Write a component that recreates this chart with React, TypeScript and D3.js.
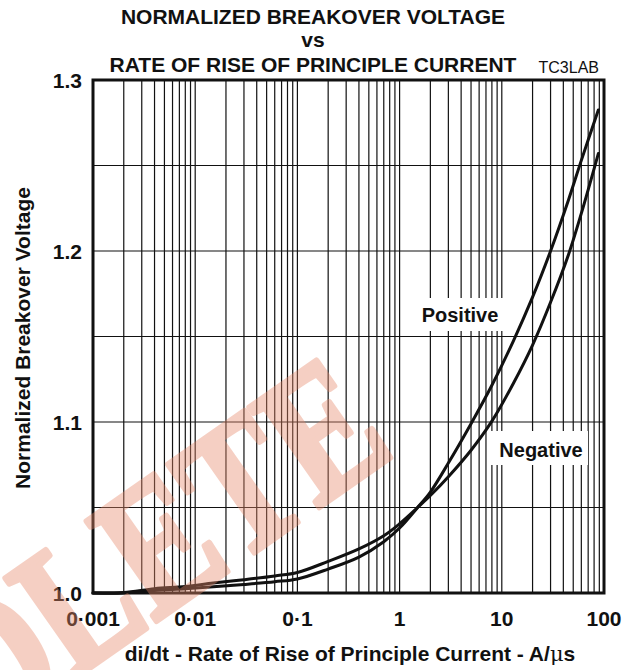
import React from 'react';
import * as d3 from 'd3';

const W = 632;
const H = 670;

const xTickValues = [0.001, 0.01, 0.1, 1, 10, 100];
const xTickLabels = ['0·001', '0·01', '0·1', '1', '10', '100'];
const yTickValues = [1.0, 1.1, 1.2, 1.3];
const yTickLabels = ['1.0', '1.1', '1.2', '1.3'];
const yGridValues = [1.05, 1.1, 1.15, 1.2, 1.25];

const current = [0.001, 0.002, 0.004, 0.008, 0.015, 0.03, 0.06, 0.1, 0.2, 0.4, 0.7, 1, 1.5, 2, 3, 5, 8, 13, 20, 30, 45, 60, 88];
const positive = [1.0, 1.0, 1.0015, 1.0025, 1.0036, 1.005, 1.0066, 1.0082, 1.014, 1.021, 1.03, 1.038, 1.05, 1.059, 1.076, 1.099, 1.1215, 1.1475, 1.173, 1.2, 1.23, 1.253, 1.2825];
const negative = [1.0, 1.0003, 1.0025, 1.0038, 1.0058, 1.0078, 1.01, 1.012, 1.0185, 1.0258, 1.0335, 1.0405, 1.05, 1.057, 1.068, 1.0835, 1.1005, 1.1227, 1.145, 1.17, 1.198, 1.222, 1.257];

const L = 93, R = 604, T = 80, B = 593;

export default function App() {
  const x = d3.scaleLog().domain([0.001, 100]).range([L, R]);
  const y = d3.scaleLinear().domain([1.0, 1.3]).range([B, T]);

  const vGrid: number[] = [];
  for (let e = -3; e < 2; e++) {
    for (let m = 1; m <= 9; m++) {
      const v = m * Math.pow(10, e);
      if (v > 0.001) vGrid.push(v);
    }
  }

  const line = d3
    .line<number>()
    .x((_, i) => x(current[i]))
    .y((d) => y(d))
    .curve(d3.curveCatmullRom.alpha(0.5));

  const bold = { fontFamily: 'Liberation Sans, Arial, sans-serif', fontWeight: 'bold' as const };

  return (
    <svg width={W} height={H} style={{ position: 'absolute', left: 0, top: 0, background: '#fff' }}>
      <rect x={0} y={0} width={W} height={H} fill="#fff" />
      {/* title */}
      <g {...bold} fontSize={21} textAnchor="middle" fill="#111">
        <text x={313} y={24}>NORMALIZED BREAKOVER VOLTAGE</text>
        <text x={313} y={47}>vs</text>
        <text x={313} y={72}>RATE OF RISE OF PRINCIPLE CURRENT</text>
      </g>
      <text x={599} y={73} textAnchor="end" fontFamily="Liberation Sans, Arial, sans-serif" fontSize={16} fill="#111">TC3LAB</text>

      {/* grid */}
      <g stroke="#111" strokeWidth={1.2}>
        {vGrid.map((v, i) => (
          <line key={'v' + i} x1={x(v)} x2={x(v)} y1={T} y2={B} />
        ))}
        {yGridValues.map((v, i) => (
          <line key={'h' + i} x1={L} x2={R} y1={y(v)} y2={y(v)} />
        ))}
      </g>

      {/* label boxes */}
      <rect x={415} y={298} width={90} height={33} fill="#fff" />
      <rect x={491} y={431} width={97} height={34} fill="#fff" />
      <g {...bold} fontSize={20} fill="#111">
        <text x={460} y={322} textAnchor="middle">Positive</text>
        <text x={541} y={457} textAnchor="middle">Negative</text>
      </g>

      {/* frame */}
      <rect x={L} y={T} width={R - L} height={B - T} fill="none" stroke="#111" strokeWidth={3} />

      {/* curves */}
      <g fill="none" stroke="#111" strokeWidth={3} strokeLinejoin="round" strokeLinecap="round">
        <path d={line(positive) || ''} />
        <path d={line(negative) || ''} />
      </g>

      {/* y tick labels */}
      <g {...bold} fontSize={21} fill="#111" textAnchor="end">
        {yTickValues.map((v, i) => (
          <text key={i} x={82} y={y(v) + 7.5}>{yTickLabels[i]}</text>
        ))}
      </g>
      {/* x tick labels */}
      <g {...bold} fontSize={21} fill="#111" textAnchor="middle">
        {xTickValues.map((v, i) => (
          <text key={i} x={x(v)} y={626}>{xTickLabels[i]}</text>
        ))}
      </g>

      {/* axis titles */}
      <text {...bold} fontSize={21} fill="#111" textAnchor="middle" x={350} y={661}>
        di/dt - Rate of Rise of Principle Current - A/<tspan fontWeight="normal" fontFamily="DejaVu Serif, serif">μ</tspan>s
      </text>
      <text {...bold} fontSize={21} fill="#111" textAnchor="middle" transform={`translate(30,338) rotate(-90)`}>
        Normalized Breakover Voltage
      </text>

      {/* watermark */}
      <g opacity={0.4} transform="translate(398,452) rotate(-35) scale(0.8,1)">
        <text
          textAnchor="end"
          fontFamily="Liberation Serif, serif"
          fontWeight="bold"
          fontSize={186}
          fill="#e8896a"
          stroke="#e8896a"
          strokeWidth={6}
          strokeLinejoin="round"
        >
          OBSOLETE
        </text>
      </g>
    </svg>
  );
}
